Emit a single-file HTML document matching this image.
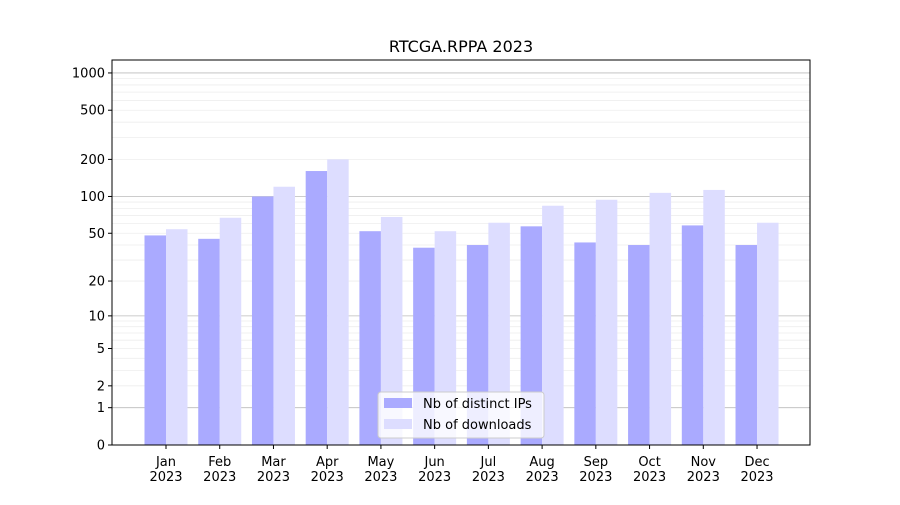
<!DOCTYPE html>
<html><head><meta charset="utf-8"><style>
body{margin:0;background:#fff;font-family:"Liberation Sans","DejaVu Sans",sans-serif}
svg text{font-family:"DejaVu Sans","Liberation Sans",sans-serif;fill:#000}
</style></head><body>
<svg id="chart" width="900" height="500" viewBox="0 0 900 500" xmlns="http://www.w3.org/2000/svg">
<rect width="900" height="500" fill="#fff"/>
<text x="461" y="52" font-size="16" text-anchor="middle">RTCGA.RPPA 2023</text>
<g id="grid"></g><g id="bars"></g><g id="axes"></g>
<g>
<rect x="378" y="392" width="166" height="46" fill="#fff" fill-opacity="0.8" stroke="#ccc" rx="3"/>
<rect x="384" y="398" width="28" height="10" fill="#aaaaff"/>
<text x="423" y="408" font-size="13">Nb of distinct IPs</text>
<rect x="384" y="419" width="28" height="10" fill="#ddddff"/>
<text x="423" y="429" font-size="13">Nb of downloads</text>
</g>
</svg>
<script>
const months=["Jan","Feb","Mar","Apr","May","Jun","Jul","Aug","Sep","Oct","Nov","Dec"];
const ips=[48,45,100,161,52,38,40,57,42,40,58,40];
const downloads=[54,67,120,200,68,52,61,84,94,107,113,61];
const yTicks=[0,1,2,5,10,20,50,100,200,500,1000];
const NS="http://www.w3.org/2000/svg";
const L=112,R=810,T=60,B=445;
function y(v){return B-124*Math.log10(1+v);}
function x(i){return 166+i*53.73;}
function mk(tag,attrs,parent){const e=document.createElementNS(NS,tag);for(const k in attrs)e.setAttribute(k,attrs[k]);parent.appendChild(e);return e;}
const grid=document.getElementById('grid'),bars=document.getElementById('bars'),axes=document.getElementById('axes');
// minor grid
[2,3,4,5,6,7,8,9,20,30,40,50,60,70,80,90,200,300,400,500,600,700,800,900].forEach(v=>{
 const l=mk('line',{x1:L,x2:R,y1:y(v),y2:y(v),stroke:'#eeeeee','stroke-width':0.8},grid);
 });
[0,1,10,100,1000].forEach(v=>{
 const l=mk('line',{x1:L,x2:R,y1:y(v),y2:y(v),stroke:'#bbbbbb','stroke-width':0.8},grid);
 });
const w=21.5;
months.forEach((m,i)=>{
 const b1=mk('rect',{x:x(i)-w,y:y(ips[i]),width:w,height:B-y(ips[i]),fill:'#aaaaff'},bars);
 
 const b2=mk('rect',{x:x(i),y:y(downloads[i]),width:w,height:B-y(downloads[i]),fill:'#ddddff'},bars);
 
 mk('line',{x1:x(i),x2:x(i),y1:B,y2:B+4,stroke:'#000'},axes);
 const t=mk('text',{x:x(i),y:B+21,'font-size':13,'text-anchor':'middle'},axes);t.textContent=m;
 
 const t2=mk('text',{x:x(i),y:B+36,'font-size':13,'text-anchor':'middle'},axes);t2.textContent='2023';
 
});
yTicks.forEach(v=>{
 mk('line',{x1:L-4,x2:L,y1:y(v),y2:y(v),stroke:'#000'},axes);
 const t=mk('text',{x:L-7,y:y(v)+4.5,'font-size':13,'text-anchor':'end'},axes);t.textContent=v;
 
});
const f=mk('rect',{x:L,y:T,width:R-L,height:B-T,fill:'none',stroke:'#000','stroke-width':1},axes);

</script>
</body></html>
